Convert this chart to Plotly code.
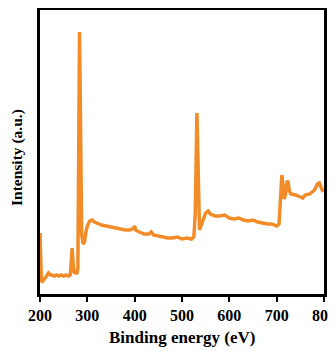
import plotly.graph_objects as go

energy = [200, 201, 203, 206, 210, 214, 218, 222, 226, 230, 235, 240, 245, 250, 255, 260, 264, 266, 268, 270,
          272, 275, 278, 280, 282, 283.5, 285, 286, 288, 291, 294, 297, 300, 305, 310, 315, 320, 325, 330, 340,
          350, 360, 370, 380, 390, 398, 400, 402, 410, 420, 430, 435, 440, 450, 460, 470, 480, 490, 500, 510,
          520, 525, 528, 530, 531.5, 533, 535, 537, 540, 545, 550, 555, 560, 570, 580, 590, 595, 600, 610, 620,
          630, 640, 650, 660, 670, 680, 690, 700, 705, 708, 711, 713, 716, 719, 722, 724, 727, 730, 740, 750,
          755, 760, 770, 780, 786, 790, 794, 798]
intensity = [61, 20, 12, 13, 15, 18, 21, 19, 19, 18, 19, 18, 19, 18, 19, 18, 19, 30, 46, 30,
             22, 21, 21, 25, 150, 262, 200, 80, 60, 50, 52, 62, 68, 73, 74, 72, 71, 70, 69, 68,
             67, 66, 65, 64, 64, 66, 68, 64, 62, 60, 60, 62, 59, 58, 57, 56, 56, 57, 55, 56,
             55, 57, 80, 170, 181, 150, 80, 64, 68, 76, 81, 83, 80, 78, 78, 79, 77, 76, 75, 76,
             74, 73, 74, 72, 71, 70, 70, 68, 70, 100, 119, 110, 95, 100, 113, 112, 103, 100, 99, 97,
             96, 99, 100, 104, 110, 111, 107, 102]
x_ticks = [200, 300, 400, 500, 600, 700, 800]

fig = go.Figure()
fig.add_trace(go.Scatter(x=energy, y=intensity, mode="lines",
                         line=dict(color="#F28C28", width=3.5), showlegend=False))

font_family = "Liberation Serif, serif"
# page body has an 8px default margin, so the figure is sized/offset to compensate
fig.update_layout(
    width=328, height=343,
    margin=dict(l=32, r=12, t=2, b=57),
    paper_bgcolor="white", plot_bgcolor="white",
    font=dict(family=font_family, color="black"),
    xaxis=dict(range=[200, 800], tickvals=x_ticks, ticktext=[f"<b>{v}</b>" for v in x_ticks],
               ticks="outside", ticklen=5, tickwidth=2, tickcolor="black",
               showline=True, linecolor="black", linewidth=3, mirror=True, automargin=False,
               showgrid=False, zeroline=False, tickfont=dict(size=16, family=font_family)),
    yaxis=dict(range=[0, 284], showticklabels=False, ticks="", automargin=False,
               showline=True, linecolor="black", linewidth=3, mirror=True,
               showgrid=False, zeroline=False),
    annotations=[
        dict(text="<b>Binding energy (eV)</b>", xref="paper", yref="paper", x=0.5, y=0,
             xanchor="center", yanchor="middle", yshift=-43, showarrow=False,
             font=dict(size=17, family=font_family)),
        dict(text="<b>Intensity (a.u.)</b>", xref="paper", yref="paper", x=0, y=0.5,
             xanchor="center", yanchor="middle", xshift=-23, yshift=-6, textangle=-90,
             showarrow=False, font=dict(size=15.5, family=font_family)),
    ],
)
fig.write_html("out.html")
